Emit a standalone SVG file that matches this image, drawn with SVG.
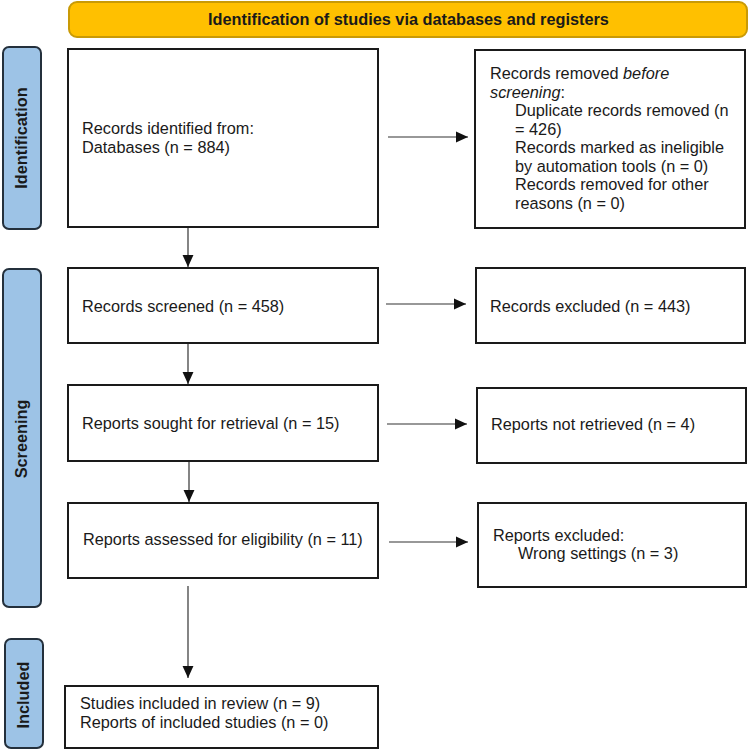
<svg xmlns="http://www.w3.org/2000/svg" width="750" height="753" viewBox="0 0 750 753">
<style>
  .box { fill: #ffffff; stroke: #1a1a1a; stroke-width: 2; }
  .tab { fill: #9dc3e6; stroke: #24303c; stroke-width: 2; }
  .hdr { fill: #ffc000; stroke: #c99a06; stroke-width: 2; }
  .t { font-family: "Liberation Sans", Arial, sans-serif; font-size: 16.3px; fill: #1a1a1a; }
  .b { font-family: "Liberation Sans", Arial, sans-serif; font-size: 16.3px; font-weight: bold; fill: #1a1a1a; }
  .conn path { fill: none; stroke: #333333; stroke-width: 1.2; marker-end: url(#arr); }
</style>
<defs>
  <marker id="arr" markerUnits="userSpaceOnUse" markerWidth="12" markerHeight="12" viewBox="0 0 11 10" refX="11" refY="5" orient="auto">
    <path d="M0,0 L11,5 L0,10 Z" fill="#111111"/>
  </marker>
</defs>
<rect width="750" height="753" fill="#ffffff"/>

<g id="header">
  <rect class="hdr" x="69" y="2" width="678" height="35" rx="8"/>
  <text class="b" x="408.5" y="25" text-anchor="middle">Identification of studies via databases and registers</text>
</g>

<g id="tab-identification">
  <rect class="tab" x="3" y="47" width="38" height="182" rx="6"/>
  <text class="b" transform="translate(27,138) rotate(-90)" text-anchor="middle">Identification</text>
</g>
<g id="tab-screening">
  <rect class="tab" x="3" y="269" width="38" height="338" rx="6"/>
  <text class="b" transform="translate(27,439) rotate(-90)" text-anchor="middle">Screening</text>
</g>
<g id="tab-included">
  <rect class="tab" x="5" y="639" width="38" height="109" rx="6"/>
  <text class="b" transform="translate(29,695) rotate(-90)" text-anchor="middle">Included</text>
</g>

<g id="records-identified">
  <rect class="box" x="68" y="49" width="310" height="178"/>
  <text class="t" x="82" y="134">Records identified from:</text>
  <text class="t" x="82" y="153">Databases (n = 884)</text>
</g>
<g id="records-removed">
  <rect class="box" x="475" y="50" width="270" height="178"/>
  <text class="t" x="490" y="79">Records removed <tspan font-style="italic">before</tspan></text>
  <text class="t" x="490" y="97.5"><tspan font-style="italic">screening</tspan>:</text>
  <text class="t" x="515" y="116">Duplicate records removed (n</text>
  <text class="t" x="515" y="134.5">= 426)</text>
  <text class="t" x="515" y="153">Records marked as ineligible</text>
  <text class="t" x="515" y="171.5">by automation tools (n = 0)</text>
  <text class="t" x="515" y="190">Records removed for other</text>
  <text class="t" x="515" y="208.5">reasons (n = 0)</text>
</g>
<g id="records-screened">
  <rect class="box" x="68" y="268" width="310" height="75"/>
  <text class="t" x="82" y="312">Records screened (n = 458)</text>
</g>
<g id="records-excluded">
  <rect class="box" x="476" y="268" width="269" height="75"/>
  <text class="t" x="490" y="312">Records excluded (n = 443)</text>
</g>
<g id="reports-sought">
  <rect class="box" x="68" y="385" width="310" height="76"/>
  <text class="t" x="82" y="429">Reports sought for retrieval (n = 15)</text>
</g>
<g id="reports-not-retrieved">
  <rect class="box" x="477" y="388" width="269" height="75"/>
  <text class="t" x="491" y="430">Reports not retrieved (n = 4)</text>
</g>
<g id="reports-assessed">
  <rect class="box" x="68" y="503" width="310" height="75"/>
  <text class="t" x="83" y="545">Reports assessed for eligibility (n = 11)</text>
</g>
<g id="reports-excluded">
  <rect class="box" x="478" y="503" width="268" height="84"/>
  <text class="t" x="493" y="541">Reports excluded:</text>
  <text class="t" x="518" y="559">Wrong settings (n = 3)</text>
</g>
<g id="studies-included">
  <rect class="box" x="65" y="686" width="313" height="62"/>
  <text class="t" x="80" y="709">Studies included in review (n = 9)</text>
  <text class="t" x="80" y="728">Reports of included studies (n = 0)</text>
</g>

<g id="connectors" class="conn">
  <path d="M388,137 L468,137"/>
  <path d="M188,228 L188,267"/>
  <path d="M386,304 L466,304"/>
  <path d="M188,344 L188,384"/>
  <path d="M387,424 L467,424"/>
  <path d="M189,462 L189,502"/>
  <path d="M389,542 L468,542"/>
  <path d="M188,586 L188,678"/>
</g>
</svg>
